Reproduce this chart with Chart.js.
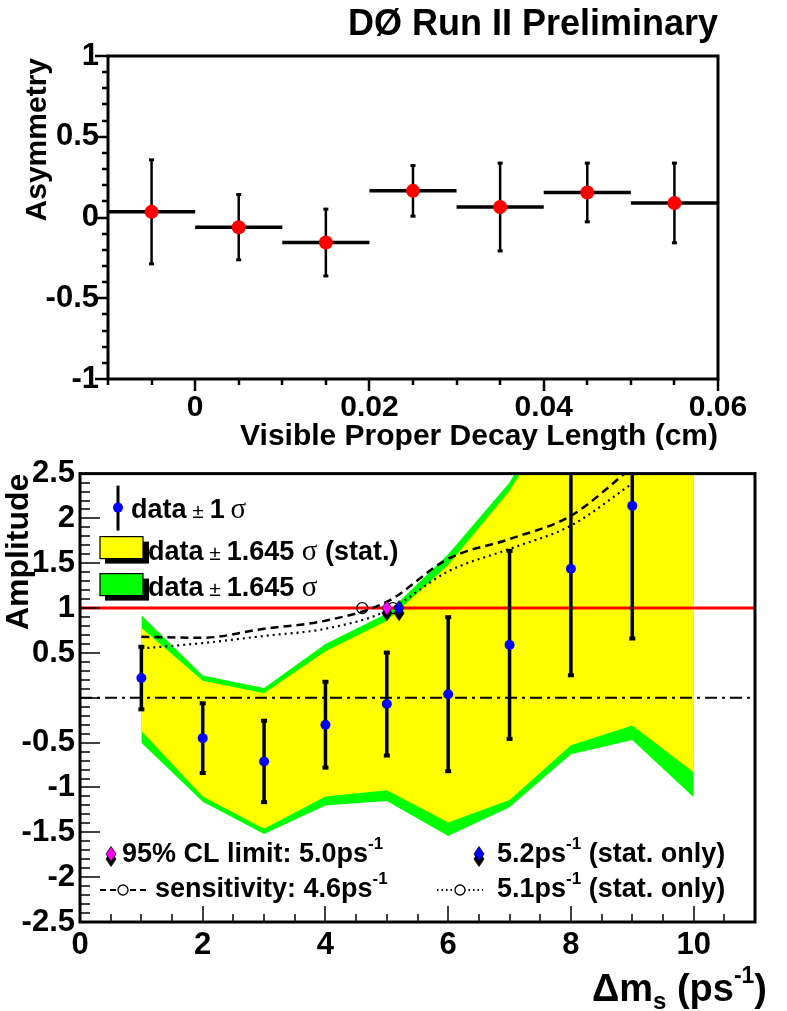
<!DOCTYPE html>
<html>
<head>
<meta charset="utf-8">
<script src="https://cdn.jsdelivr.net/npm/chart.js@4.4.1/dist/chart.umd.min.js"></script>
<style>
  html, body { margin: 0; padding: 0; background: #fff; }
  #wrap { position: relative; width: 787px; height: 1011px; }
  canvas { position: absolute; left: 0; }
  #asym { top: 0; }
  #amp { top: 450px; }
</style>
</head>
<body>
<div id="wrap">
  <canvas id="asym" width="787" height="450"></canvas>
  <canvas id="amp" width="787" height="561"></canvas>
</div>
<script>
// --- asymmetry vs visible proper decay length ---
const binCenters = [-0.005, 0.005, 0.015, 0.025, 0.035, 0.045, 0.055];
const binHalfWidth = 0.005;
const asymmetry = [0.035, -0.06, -0.155, 0.165, 0.065, 0.155, 0.09];
const asymError = [0.325, 0.205, 0.21, 0.16, 0.275, 0.185, 0.25];
const decayTicks = [0, 0.02, 0.04, 0.06];
const asymTicks = [-1, -0.5, 0, 0.5, 1];

// --- amplitude scan ---
const dms = [1, 2, 3, 4, 5, 6, 7, 8, 9];
const amplitude = [0.22, -0.45, -0.71, -0.30, -0.07, 0.04, 0.59, 1.44, 2.14];
const ampError = [0.36, 0.40, 0.465, 0.49, 0.585, 0.87, 1.06, 1.20, 1.49];

const bandDms = [1, 2, 3, 4, 5, 6, 7, 8, 9, 10];
const statUpper = [0.78, 0.19, 0.05, 0.52, 0.86, 1.48, 2.31, 3.41, 4.60, 4.30];
const statLower = [-0.37, -1.10, -1.46, -1.10, -1.03, -1.39, -1.14, -0.53, -0.31, -0.83];
const totUpper = [0.92, 0.25, 0.11, 0.60, 0.94, 1.60, 2.40, 3.60, 4.90, 4.60];
const totLower = [-0.50, -1.16, -1.52, -1.20, -1.15, -1.54, -1.22, -0.63, -0.47, -1.11];

// 1.645 sigma curves (sensitivity)
const sensTotal = [0.68, 0.67, 0.77, 0.86, 1.07, 1.55, 1.77, 2.03, 2.57];
const sensStat = [0.55, 0.61, 0.69, 0.77, 0.97, 1.41, 1.66, 1.92, 2.39];

const unitAmplitude = 1;
const clLimit = 5.0;
const clLimitStat = 5.2;
const sensitivity = 4.6;
const sensitivityStat = 5.1;

const dmsTicks = [0, 2, 4, 6, 8, 10];
const ampTicks = [-2.5, -2, -1.5, -1, -0.5, 0, 0.5, 1, 1.5, 2, 2.5];

const FAM = '"Liberation Sans", Arial, Helvetica, sans-serif';
const B = n => `bold ${n}px ${FAM}`;
const R = n => `${n}px ${FAM}`;
const S = n => `${n}px "Liberation Serif", "Times New Roman", serif`;

Chart.defaults.color = '#000';
Chart.defaults.font.family = FAM;

function drawRuns(ctx, x, y, runs) {
  for (const r of runs) {
    ctx.font = r.font;
    ctx.fillText(r.text, x, y + (r.dy || 0));
    x += ctx.measureText(r.text).width;
  }
  return x;
}
function runsWidth(ctx, runs) {
  let w = 0;
  for (const r of runs) { ctx.font = r.font; w += ctx.measureText(r.text).width; }
  return w;
}

// diamond marker with a dark shadow underneath
function diamond(color) {
  const c = document.createElement('canvas');
  c.width = 14; c.height = 32;
  const g = c.getContext('2d');
  const d = (cy, fill) => {
    g.beginPath();
    g.moveTo(7, cy - 7.5); g.lineTo(12, cy); g.lineTo(7, cy + 7.5); g.lineTo(2, cy);
    g.closePath();
    g.fillStyle = fill; g.fill();
    g.lineWidth = 0.8; g.strokeStyle = '#000'; g.stroke();
  };
  d(21, '#000');
  d(16, color);
  return c;
}
const magentaDiamond = diamond('#ff00ff');
const blueDiamond = diamond('#0000ff');

// black frame plus ROOT style tick marks
const frameTicks = {
  id: 'frameTicks',
  afterDatasetsDraw(chart, args, o) {
    const { ctx, chartArea: a, scales: { x, y } } = chart;
    const dir = o.inside ? -1 : 1;
    ctx.save();
    ctx.strokeStyle = '#000';
    ctx.lineWidth = o.tickWidth;
    const nx = Math.round((x.max - x.min) / o.xMinor);
    for (let i = 0; i <= nx; i++) {
      const v = x.min + i * o.xMinor;
      const major = Math.abs(v / o.xMajor - Math.round(v / o.xMajor)) < 1e-6;
      const px = Math.round(x.getPixelForValue(v));
      const len = major ? o.xMajorLen : o.xMinorLen;
      ctx.beginPath(); ctx.moveTo(px, a.bottom); ctx.lineTo(px, a.bottom + dir * len); ctx.stroke();
    }
    const ny = Math.round((y.max - y.min) / o.yMinor);
    for (let i = 0; i <= ny; i++) {
      const v = y.min + i * o.yMinor;
      const major = Math.abs(v / o.yMajor - Math.round(v / o.yMajor)) < 1e-6;
      const py = Math.round(y.getPixelForValue(v));
      const len = major ? o.yMajorLen : o.yMinorLen;
      ctx.beginPath(); ctx.moveTo(a.left, py); ctx.lineTo(a.left - dir * len, py); ctx.stroke();
    }
    ctx.lineWidth = o.frameWidth;
    ctx.strokeRect(a.left, a.top, a.right - a.left, a.bottom - a.top);
    ctx.restore();
  }
};

// bins: horizontal bar across the bin and vertical error bar
const asymBars = {
  id: 'asymBars',
  beforeDatasetDraw(chart, args) {
    if (args.index !== 0) return;
    const { ctx, scales: { x, y } } = chart;
    ctx.save();
    ctx.strokeStyle = '#000';
    ctx.fillStyle = '#000';
    binCenters.forEach((c, i) => {
      const py = y.getPixelForValue(asymmetry[i]);
      ctx.lineWidth = 3.5;
      ctx.beginPath();
      ctx.moveTo(x.getPixelForValue(c - binHalfWidth), py);
      ctx.lineTo(x.getPixelForValue(c + binHalfWidth), py);
      ctx.stroke();
      const px = x.getPixelForValue(c);
      const y1 = y.getPixelForValue(asymmetry[i] + asymError[i]);
      const y2 = y.getPixelForValue(asymmetry[i] - asymError[i]);
      ctx.lineWidth = 2.5;
      ctx.beginPath(); ctx.moveTo(px, y1); ctx.lineTo(px, y2); ctx.stroke();
      ctx.fillRect(px - 2.5, y1 - 1, 5, 3);
      ctx.fillRect(px - 2.5, y2 - 2, 5, 3);
    });
    ctx.restore();
  }
};

const asymText = {
  id: 'asymText',
  afterDraw(chart) {
    const { ctx, chartArea: a } = chart;
    ctx.save();
    ctx.fillStyle = '#000';
    ctx.textBaseline = 'alphabetic';
    ctx.textAlign = 'right';
    ctx.font = B(36);
    ctx.fillText('DØ Run II Preliminary', a.right, 35);
    ctx.font = B(30);
    ctx.fillText('Visible Proper Decay Length (cm)', a.right, 445);
    ctx.translate(46, a.top + 2);
    ctx.rotate(-Math.PI / 2);
    ctx.font = B(30);
    ctx.fillText('Asymmetry', 0, 0);
    ctx.restore();
  }
};

new Chart(document.getElementById('asym'), {
  type: 'scatter',
  data: {
    datasets: [{
      data: binCenters.map((c, i) => ({ x: c, y: asymmetry[i] })),
      pointRadius: 7,
      pointBackgroundColor: '#ff0000',
      pointBorderWidth: 0
    }]
  },
  options: {
    responsive: false,
    animation: false,
    layout: { padding: { left: 0, right: 69, top: 56, bottom: 0 } },
    plugins: {
      legend: { display: false },
      tooltip: { enabled: false },
      frameTicks: {
        inside: false, frameWidth: 3, tickWidth: 2.5,
        xMinor: 0.005, xMajor: 0.02, xMinorLen: 6, xMajorLen: 12,
        yMinor: 0.1, yMajor: 0.5, yMinorLen: 6, yMajorLen: 13
      }
    },
    scales: {
      x: {
        type: 'linear', min: -0.01, max: 0.06,
        grid: { display: false, drawTicks: false },
        border: { display: false },
        afterBuildTicks: s => { s.ticks = decayTicks.map(v => ({ value: v })); },
        afterFit: s => { s.height = 71; },
        ticks: { font: { size: 30, weight: 'bold' }, padding: 11, autoSkip: false, maxRotation: 0, callback: v => String(v) }
      },
      y: {
        type: 'linear', min: -1, max: 1,
        grid: { display: false, drawTicks: false },
        border: { display: false },
        afterBuildTicks: s => { s.ticks = asymTicks.map(v => ({ value: v })); },
        afterFit: s => { s.width = 108; },
        ticks: { font: { size: 31, weight: 'bold' }, padding: 9, autoSkip: false, callback: v => String(v) }
      }
    }
  },
  plugins: [asymBars, frameTicks, asymText]
});

// stat error bars on the amplitude points
const ampBars = {
  id: 'ampBars',
  beforeDatasetDraw(chart, args) {
    if (args.index !== 0) return;
    const { ctx, chartArea: a, scales: { x, y } } = chart;
    ctx.save();
    ctx.beginPath();
    ctx.rect(a.left, a.top, a.right - a.left, a.bottom - a.top);
    ctx.clip();
    ctx.strokeStyle = '#000';
    ctx.fillStyle = '#000';
    ctx.lineWidth = 3.5;
    dms.forEach((m, i) => {
      const px = x.getPixelForValue(m);
      const y1 = y.getPixelForValue(amplitude[i] + ampError[i]);
      const y2 = y.getPixelForValue(amplitude[i] - ampError[i]);
      ctx.beginPath(); ctx.moveTo(px, y1); ctx.lineTo(px, y2); ctx.stroke();
      ctx.fillRect(px - 3, y1 - 1, 6, 4);
      ctx.fillRect(px - 3, y2 - 3, 6, 4);
    });
    ctx.restore();
  }
};

const ampText = {
  id: 'ampText',
  afterDraw(chart) {
    const { ctx, chartArea: a } = chart;
    ctx.save();
    ctx.fillStyle = '#000';
    ctx.strokeStyle = '#000';
    ctx.textBaseline = 'alphabetic';
    ctx.textAlign = 'left';

    // upper legend
    const lx = a.left, ly = a.top;
    ctx.lineWidth = 3;
    ctx.beginPath(); ctx.moveTo(lx + 38, ly + 12); ctx.lineTo(lx + 38, ly + 57); ctx.stroke();
    ctx.fillStyle = '#0000ff';
    ctx.beginPath(); ctx.arc(lx + 38, ly + 34, 5, 0, Math.PI * 2); ctx.fill();
    ctx.fillStyle = '#000';
    drawRuns(ctx, lx + 51, ly + 44, [
      { text: 'data', font: B(27) }, { text: ' ± ', font: R(21) },
      { text: '1', font: B(27) }, { text: '\u2009σ', font: S(29) }
    ]);
    const box = (y0, color) => {
      ctx.fillStyle = '#000';
      ctx.fillRect(lx + 25, y0 + 5, 44, 22);
      ctx.fillStyle = color;
      ctx.fillRect(lx + 20, y0, 43, 22);
      ctx.lineWidth = 1.2;
      ctx.strokeRect(lx + 20, y0, 43, 22);
      ctx.fillStyle = '#000';
    };
    box(ly + 63, '#ffff00');
    drawRuns(ctx, lx + 68, ly + 86, [
      { text: 'data', font: B(27) }, { text: ' ± ', font: R(21) },
      { text: '1.645 ', font: B(27) }, { text: 'σ', font: S(29) },
      { text: ' (stat.)', font: B(27) }
    ]);
    box(ly + 100, '#00ff00');
    drawRuns(ctx, lx + 68, ly + 122, [
      { text: 'data', font: B(27) }, { text: ' ± ', font: R(21) },
      { text: '1.645 ', font: B(27) }, { text: 'σ', font: S(29) }
    ]);

    // lower legend
    const by1 = a.bottom - 60, by2 = a.bottom - 25;
    const sup = t => ({ text: t, font: B(17), dy: -13 });
    ctx.drawImage(magentaDiamond, lx + 31 - 7, by1 - 8 - 16);
    drawRuns(ctx, lx + 42, by1, [{ text: '95% CL limit: 5.0ps', font: B(27) }, sup('-1')]);
    ctx.drawImage(blueDiamond, lx + 399 - 7, by1 - 8 - 16);
    drawRuns(ctx, lx + 417, by1, [{ text: '5.2ps', font: B(27) }, sup('-1'), { text: ' (stat. only)', font: B(27) }]);

    const ly2 = by2 - 7;
    ctx.lineWidth = 2;
    ctx.setLineDash([6, 4]);
    ctx.beginPath(); ctx.moveTo(lx + 20, ly2); ctx.lineTo(lx + 69, ly2); ctx.stroke();
    ctx.setLineDash([1.5, 3]);
    ctx.beginPath(); ctx.moveTo(lx + 357, ly2); ctx.lineTo(lx + 403, ly2); ctx.stroke();
    ctx.setLineDash([]);
    ctx.lineWidth = 1.3;
    [lx + 43, lx + 380].forEach(cx => {
      ctx.fillStyle = '#fff';
      ctx.beginPath(); ctx.arc(cx, ly2, 5, 0, Math.PI * 2); ctx.fill(); ctx.stroke();
    });
    ctx.fillStyle = '#000';
    drawRuns(ctx, lx + 75, by2, [{ text: 'sensitivity: 4.6ps', font: B(27) }, sup('-1')]);
    drawRuns(ctx, lx + 417, by2, [{ text: '5.1ps', font: B(27) }, sup('-1'), { text: ' (stat. only)', font: B(27) }]);

    // axis titles
    const xt = [
      { text: 'Δm', font: B(38) }, { text: 's', font: B(24), dy: 8 },
      { text: ' (ps', font: B(38) }, { text: '-1', font: B(23), dy: -18 },
      { text: ')', font: B(38) }
    ];
    drawRuns(ctx, 767 - runsWidth(ctx, xt), 551, xt);

    ctx.translate(28, a.top);
    ctx.rotate(-Math.PI / 2);
    ctx.textAlign = 'right';
    ctx.font = B(32);
    ctx.fillText('Amplitude', 0, 0);
    ctx.restore();
  }
};

const flat = (x0, x1, v) => [{ x: x0, y: v }, { x: x1, y: v }];
const pts = (xs, ys) => xs.map((x, i) => ({ x, y: ys[i] }));
const bandLine = (ys, fill, color) => ({
  data: pts(bandDms, ys), fill, backgroundColor: color,
  borderColor: 'transparent', borderWidth: 0, pointRadius: 0
});

new Chart(document.getElementById('amp'), {
  type: 'line',
  data: {
    datasets: [
      { data: pts(dms, amplitude), showLine: false, pointRadius: 5, pointBackgroundColor: '#0000ff', pointBorderWidth: 0 },
      { data: [{ x: clLimit, y: unitAmplitude }], showLine: false, pointStyle: magentaDiamond, pointRadius: 8 },
      { data: [{ x: clLimitStat, y: unitAmplitude }], showLine: false, pointStyle: blueDiamond, pointRadius: 8 },
      { data: [{ x: sensitivity, y: unitAmplitude }], showLine: false, pointRadius: 5.5, pointBackgroundColor: 'rgba(0,0,0,0)', pointBorderColor: '#000', pointBorderWidth: 1.2 },
      { data: [{ x: sensitivityStat, y: unitAmplitude }], showLine: false, pointRadius: 5.5, pointBackgroundColor: 'rgba(0,0,0,0)', pointBorderColor: '#000', pointBorderWidth: 1.2 },
      { data: pts(dms, sensTotal), borderColor: '#000', borderWidth: 2.5, borderDash: [8, 5], pointRadius: 0, cubicInterpolationMode: 'monotone' },
      { data: pts(dms, sensStat), borderColor: '#000', borderWidth: 2.2, borderDash: [2, 4], pointRadius: 0, cubicInterpolationMode: 'monotone' },
      { data: flat(0, 11, unitAmplitude), borderColor: '#ff0000', borderWidth: 3, pointRadius: 0 },
      { data: flat(0, 11, 0), borderColor: '#000', borderWidth: 2, borderDash: [12, 5, 3, 5], pointRadius: 0 },
      bandLine(statUpper, '+1', '#ffff00'),
      bandLine(statLower, false, 'transparent'),
      bandLine(totUpper, '+1', '#00ff00'),
      bandLine(totLower, false, 'transparent')
    ]
  },
  options: {
    responsive: false,
    animation: false,
    layout: { padding: { left: 0, right: 32, top: 16, bottom: 0 } },
    plugins: {
      legend: { display: false },
      tooltip: { enabled: false },
      frameTicks: {
        inside: true, frameWidth: 3, tickWidth: 1.5,
        xMinor: 0.5, xMajor: 2, xMinorLen: 8, xMajorLen: 16,
        yMinor: 0.1, yMajor: 0.5, yMinorLen: 10, yMajorLen: 20
      }
    },
    scales: {
      x: {
        type: 'linear', min: 0, max: 11,
        grid: { display: false, drawTicks: false },
        border: { display: false },
        afterBuildTicks: s => { s.ticks = dmsTicks.map(v => ({ value: v })); },
        afterFit: s => { s.height = 89; },
        ticks: { font: { size: 31, weight: 'bold' }, padding: 5, autoSkip: false, maxRotation: 0, callback: v => String(v) }
      },
      y: {
        type: 'linear', min: -2.5, max: 2.5,
        grid: { display: false, drawTicks: false },
        border: { display: false },
        afterBuildTicks: s => { s.ticks = ampTicks.map(v => ({ value: v })); },
        afterFit: s => { s.width = 80; },
        ticks: { font: { size: 31, weight: 'bold' }, padding: 5, autoSkip: false, callback: v => (v === 0 ? '' : String(v)) }
      }
    }
  },
  plugins: [ampBars, frameTicks, ampText]
});
</script>
</body>
</html>
